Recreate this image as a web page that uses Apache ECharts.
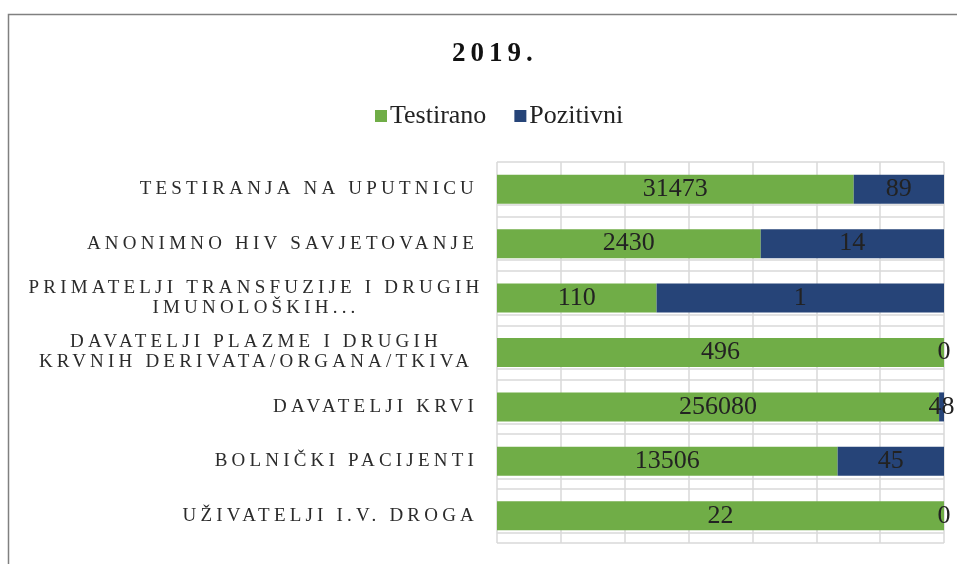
<!DOCTYPE html>
<html>
<head>
<meta charset="utf-8">
<script src="https://cdn.jsdelivr.net/npm/echarts@6/dist/echarts.min.js"></script>
<style>
  html, body { margin: 0; padding: 0; background: #fff; }
  #chart { width: 957px; height: 564px; }
</style>
</head>
<body>
<div id="chart"></div>
<script>
const categories = [
  'TESTIRANJA NA UPUTNICU',
  'ANONIMNO HIV SAVJETOVANJE',
  'PRIMATELJI TRANSFUZIJE I DRUGIH\nIMUNOLOŠKIH...',
  'DAVATELJI PLAZME I DRUGIH\nKRVNIH DERIVATA/ORGANA/TKIVA',
  'DAVATELJI KRVI',
  'BOLNIČKI PACIJENTI',
  'UŽIVATELJI I.V. DROGA'
]
// numbers printed on the bars
const testirano = [31473, 2430, 110, 496, 256080, 13506, 22]
const pozitivni = [89, 14, 1, 0, 48, 45, 0]
// length of each segment as drawn, % of the full bar
const testiranoShare = [79.8, 59.0, 35.7, 100, 98.9, 76.2, 100]
const pozitivniShare = [20.2, 41.0, 64.3, 0, 1.1, 23.8, 0]

const green = '#70ad47'
const blue = '#264478'
const gridColor = '#d9d9d9'

// the original uses letter-spaced caps; canvas can do that, echarts has no option for it,
// so text drawn with a marker family name gets spacing added at draw time
const spacedFonts = [['spacedlabel', '4.2px'], ['spacedtitle', '5px']]
const origFillText = CanvasRenderingContext2D.prototype.fillText
CanvasRenderingContext2D.prototype.fillText = function () {
  const font = this.font
  const hit = spacedFonts.find(s => font.indexOf(s[0]) >= 0)
  this.letterSpacing = hit ? hit[1] : '0px'
  this.font = font
  origFillText.apply(this, arguments)
  if (hit) {
    this.letterSpacing = '0px'
    this.font = font
  }
}

const myChart = echarts.init(document.getElementById('chart'))

const barLabel = (counts) => ({
  show: true,
  position: 'inside',
  fontFamily: 'Liberation Serif',
  fontSize: 26,
  color: '#222',
  formatter: p => String(counts[p.dataIndex])
})

// two-line names are centred under each other, like the original
const categoryData = categories.map(c => c.indexOf('\n') < 0 ? c : {
  value: c,
  textStyle: { align: 'center', padding: [0, 444, 0, 0] }
})

myChart.setOption({
  backgroundColor: '#fff',
  animation: false,
  title: {
    text: '2019.',
    left: 447,
    top: 36,
    textStyle: { fontFamily: 'Liberation Serif, spacedtitle', fontSize: 27, fontWeight: 'bold', color: '#111' }
  },
  legend: {
    top: 98,
    left: 370,
    itemWidth: 12,
    itemHeight: 12,
    itemGap: 28,
    icon: 'rect',
    data: ['Testirano', 'Pozitivni'],
    textStyle: { fontFamily: 'Liberation Serif', fontSize: 26, color: '#222', padding: [0, 0, 0, -2] }
  },
  graphic: [{
    type: 'rect',
    shape: { x: 8.5, y: 14.5, width: 1000, height: 600 },
    style: { fill: 'none', stroke: '#808080', lineWidth: 1.5 },
    silent: true
  }],
  grid: [
    { left: 497, right: 13, top: 162, bottom: 21 },
    // second grid only carries the extra horizontal rules above each row boundary
    { left: 497, right: 13, top: 205, bottom: 31 }
  ],
  xAxis: [
    { type: 'value', gridIndex: 0, min: 0, max: 100, show: false },
    {
      type: 'value', gridIndex: 0, min: 0, max: 7, interval: 1,
      axisLabel: { show: false }, axisLine: { show: false }, axisTick: { show: false },
      splitLine: { show: true, lineStyle: { color: gridColor, width: 1.5 } }
    },
    { type: 'value', gridIndex: 1, min: 0, max: 1, show: false }
  ],
  yAxis: [
    {
      type: 'category',
      gridIndex: 0,
      inverse: true,
      data: categoryData,
      axisLine: { show: false },
      axisTick: { show: false },
      splitLine: { show: true, lineStyle: { color: gridColor, width: 1.5 } },
      axisLabel: {
        margin: 19,
        fontFamily: 'Liberation Serif, spacedlabel',
        fontSize: 19,
        lineHeight: 20,
        color: '#2b2b2b'
      }
    },
    {
      type: 'value',
      gridIndex: 1,
      min: 0,
      max: 6,
      interval: 1,
      axisLabel: { show: false }, axisLine: { show: false }, axisTick: { show: false },
      splitLine: { show: true, lineStyle: { color: gridColor, width: 1.5 } }
    }
  ],
  series: [
    {
      name: 'Testirano',
      type: 'bar',
      stack: 'total',
      xAxisIndex: 0,
      yAxisIndex: 0,
      barWidth: 29,
      itemStyle: { color: green },
      label: barLabel(testirano),
      data: testiranoShare
    },
    {
      name: 'Pozitivni',
      type: 'bar',
      stack: 'total',
      xAxisIndex: 0,
      yAxisIndex: 0,
      barWidth: 29,
      itemStyle: { color: blue },
      label: barLabel(pozitivni),
      data: pozitivniShare
    }
  ]
})
</script>
</body>
</html>
